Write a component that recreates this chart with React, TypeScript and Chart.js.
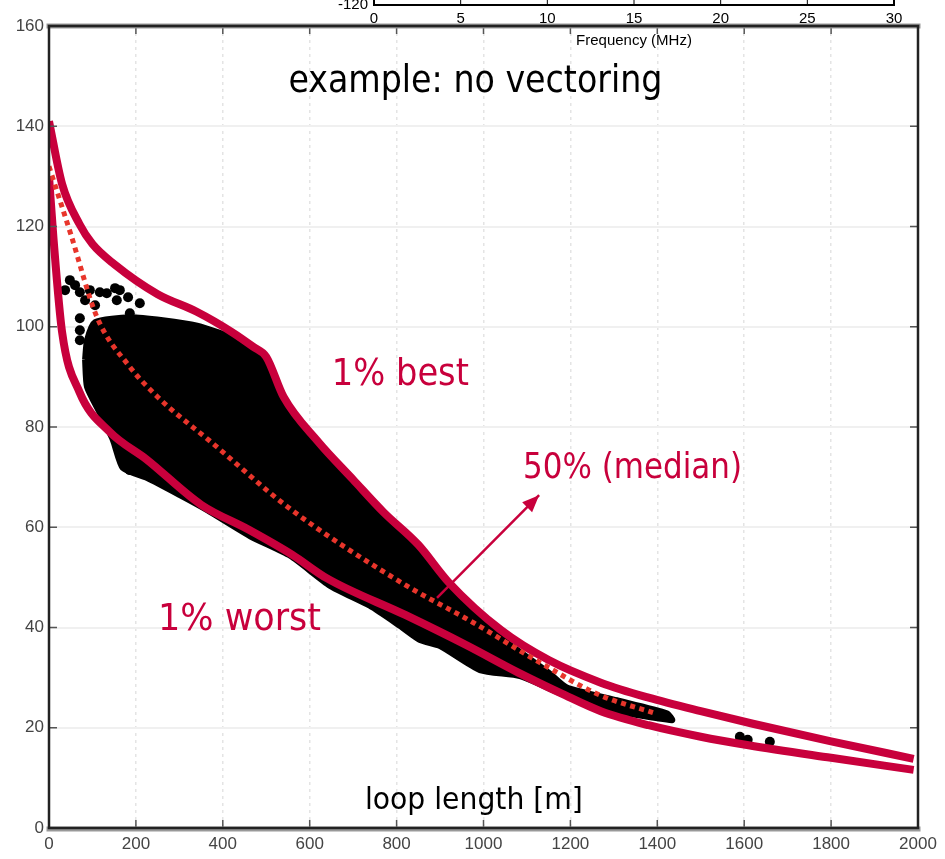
import React, { useEffect, useRef } from 'react';
import { Chart, registerables } from 'chart.js';

Chart.register(...registerables);

// ---- data (loop length [m], bit-rate) ----
const bestLength = [0, 30, 70, 100, 150, 250, 340, 420, 470, 500, 540, 620, 700, 770, 850, 920, 1040, 1150, 1270, 1380, 1500, 1620, 1800, 1990];
const bestRate = [141, 128.5, 120.5, 116.5, 112.5, 106.5, 103, 99, 96, 94, 86, 77, 69.5, 63, 56.5, 49, 39.5, 33.5, 29, 26, 23.3, 20.8, 17.3, 13.8];

const worstLength = [0, 10, 30, 70, 140, 225, 350, 460, 560, 640, 820, 960, 1080, 1180, 1270, 1380, 1500, 1610, 1800, 1990];
const worstRate = [130, 118, 99, 87, 79, 73.5, 64.5, 59.5, 54.5, 49.8, 42.5, 36.5, 31, 26.8, 23.3, 20.5, 18.2, 16.5, 14, 11.6];

const medianLength = [0, 50, 110, 186, 250, 380, 550, 810, 976, 1130, 1268, 1390];
const medianRate = [132, 118.5, 102, 92, 86, 76.5, 64, 49, 41, 33, 26.5, 23];

// outline of the dense scatter cloud (clockwise)
const cloudLength = [83, 87.5, 106, 186, 262, 341, 417, 479, 509, 540, 578, 620, 700, 770, 850, 920, 1040, 1150, 1192, 1307, 1422, 1434,
  1268, 1176, 1084, 992, 900, 854, 808, 739, 647, 555, 463, 364, 301, 226, 170, 147, 117, 87.5, 83];
const cloudRate = [93.4, 97.3, 100.9, 101.9, 101.3, 100.2, 98, 95, 92, 84.5, 80.5, 76, 68.5, 62, 55, 48, 38, 31, 28, 25.5, 22.9, 21.5,
  23.9, 26.9, 30.3, 31.5, 36.3, 37.5, 40.3, 44.3, 48.3, 54.3, 58.2, 63.4, 66.4, 69.8, 71.8, 77.4, 82.8, 88, 93.4];

// isolated scatter points outside the dense cloud
const dotLength = [37, 48, 60, 71, 94, 117, 133, 152, 163, 156, 182, 209, 186, 71, 71, 71, 83, 106, 186, 780, 820, 1590, 1608, 1659];
const dotRate = [107.3, 109.3, 108.3, 106.9, 107.3, 106.9, 106.7, 107.7, 107.3, 105.3, 105.9, 104.7, 102.7, 101.7, 99.3, 97.3, 105.3, 104.3, 71.4, 45, 42, 18.2, 17.6, 17.2];

const arrowLength = [893, 1128];
const arrowRate = [45.9, 66.4];

const annotationTexts = ['example: no vectoring', '1% best', '50% (median)', '1% worst', 'loop length [m]'];

// inset (cut-off chart at the top)
const insetFreqTicks = [0, 5, 10, 15, 20, 25, 30];
const insetYTicks = [-120];
const insetXTitle = 'Frequency (MHz)';

const RED = '#C8003C';
const DOT_RED = '#E8352B';
const TICK_FONT = "'Liberation Sans', Arial, sans-serif";
const ANN_FONT = "'DejaVu Sans Condensed', 'DejaVu Sans', sans-serif";

const pts = (xs: number[], ys: number[]) => xs.map((x, i) => ({ x, y: ys[i] }));

const framePlugin = {
  id: 'frame',
  afterDatasetsDraw(chart: any) {
    const { ctx, chartArea: a, scales } = chart;
    ctx.save();
    // inward tick marks
    ctx.strokeStyle = '#555';
    ctx.lineWidth = 1.5;
    const xs = scales.x;
    xs.ticks.forEach((t: any) => {
      const px = xs.getPixelForValue(t.value);
      ctx.beginPath();
      ctx.moveTo(px, a.bottom);
      ctx.lineTo(px, a.bottom - 8);
      ctx.moveTo(px, a.top);
      ctx.lineTo(px, a.top + 8);
      ctx.stroke();
    });
    const ys = scales.y;
    ys.ticks.forEach((t: any) => {
      const py = ys.getPixelForValue(t.value);
      ctx.beginPath();
      ctx.moveTo(a.left, py);
      ctx.lineTo(a.left + 8, py);
      ctx.moveTo(a.right, py);
      ctx.lineTo(a.right - 8, py);
      ctx.stroke();
    });
    // box
    ctx.lineCap = 'square';
    ctx.strokeStyle = '#999';
    ctx.lineWidth = 5;
    ctx.beginPath();
    ctx.moveTo(a.left, a.bottom + 1);
    ctx.lineTo(a.right, a.bottom + 1);
    ctx.moveTo(a.left, a.top);
    ctx.lineTo(a.right, a.top);
    ctx.stroke();
    ctx.strokeStyle = '#222';
    ctx.lineWidth = 2.5;
    ctx.beginPath();
    ctx.moveTo(a.left, a.bottom);
    ctx.lineTo(a.right, a.bottom);
    ctx.moveTo(a.left, a.top);
    ctx.lineTo(a.right, a.top);
    ctx.moveTo(a.left, a.top);
    ctx.lineTo(a.left, a.bottom);
    ctx.moveTo(a.right, a.top);
    ctx.lineTo(a.right, a.bottom);
    ctx.stroke();

    // arrow head on the arrow dataset
    const meta = chart.getDatasetMeta(chart.data.datasets.length - 1);
    const p0 = meta.data[0];
    const p1 = meta.data[1];
    if (p0 && p1) {
      const ang = Math.atan2(p1.y - p0.y, p1.x - p0.x);
      const L = 17;
      const W = 7;
      ctx.fillStyle = RED;
      ctx.beginPath();
      ctx.moveTo(p1.x, p1.y);
      ctx.lineTo(p1.x - L * Math.cos(ang) - W * Math.sin(ang), p1.y - L * Math.sin(ang) + W * Math.cos(ang));
      ctx.lineTo(p1.x - L * Math.cos(ang) + W * Math.sin(ang), p1.y - L * Math.sin(ang) - W * Math.cos(ang));
      ctx.closePath();
      ctx.fill();
    }
    ctx.restore();
  },
  afterDraw(chart: any) {
    const { ctx, scales } = chart;
    const X = (v: number) => scales.x.getPixelForValue(v);
    const Y = (v: number) => scales.y.getPixelForValue(v);
    ctx.save();
    ctx.textBaseline = 'alphabetic';
    const put = (txt: string, x: number, y: number, size: number, color: string, width: number) => {
      ctx.font = `${size}px ${ANN_FONT}`;
      const w = ctx.measureText(txt).width;
      ctx.save();
      ctx.translate(x, y);
      if (w > 0) ctx.scale(width / w, 1);
      ctx.fillStyle = color;
      ctx.textAlign = 'left';
      ctx.fillText(txt, 0, 0);
      ctx.restore();
    };
    put(annotationTexts[0], X(551), Y(146.8), 37, '#000', 374);
    put(annotationTexts[1], X(651), Y(88.4), 38, RED, 137);
    put(annotationTexts[2], X(1091), Y(69.8), 35, RED, 219);
    put(annotationTexts[3], X(251), Y(39.5), 38, RED, 163);
    put(annotationTexts[4], X(727), Y(3.8), 30, '#000', 218);
    ctx.restore();
  },
};

const insetFramePlugin = {
  id: 'insetFrame',
  afterDraw(chart: any) {
    const { ctx, chartArea: a, scales } = chart;
    ctx.save();
    ctx.strokeStyle = '#000';
    ctx.lineWidth = 2;
    ctx.strokeRect(a.left, a.top, a.right - a.left, a.bottom - a.top);
    ctx.lineWidth = 1;
    scales.x.ticks.forEach((t: any) => {
      const px = scales.x.getPixelForValue(t.value);
      ctx.beginPath();
      ctx.moveTo(px, a.bottom);
      ctx.lineTo(px, a.bottom - 6);
      ctx.stroke();
    });
    ctx.restore();
  },
};

export default function App() {
  const mainRef = useRef<HTMLCanvasElement | null>(null);
  const insetRef = useRef<HTMLCanvasElement | null>(null);

  useEffect(() => {
    const main = new Chart(mainRef.current as HTMLCanvasElement, {
      type: 'line',
      data: {
        datasets: [
          {
            label: 'cloud',
            data: pts(cloudLength, cloudRate),
            borderColor: '#000',
            backgroundColor: '#000',
            borderWidth: 6,
            borderJoinStyle: 'round',
            fill: 'shape',
            pointRadius: 0,
            tension: 0.2,
            order: 6,
          } as any,
          {
            label: 'dots',
            data: pts(dotLength, dotRate),
            showLine: false,
            pointRadius: 5,
            pointBackgroundColor: '#000',
            pointBorderWidth: 0,
            order: 5,
          },
          {
            label: '1% best',
            data: pts(bestLength, bestRate),
            borderColor: RED,
            borderWidth: 8,
            pointRadius: 0,
            cubicInterpolationMode: 'monotone',
            fill: false,
            order: 3,
          },
          {
            label: '1% worst',
            data: pts(worstLength, worstRate),
            borderColor: RED,
            borderWidth: 8,
            pointRadius: 0,
            cubicInterpolationMode: 'monotone',
            fill: false,
            order: 2,
          },
          {
            label: '50% (median)',
            data: pts(medianLength, medianRate),
            borderColor: DOT_RED,
            borderWidth: 5,
            borderDash: [5, 4.5],
            borderCapStyle: 'butt',
            pointRadius: 0,
            cubicInterpolationMode: 'monotone',
            fill: false,
            order: 1,
          },
          {
            label: 'arrow',
            data: pts(arrowLength, arrowRate),
            borderColor: RED,
            borderWidth: 2.5,
            pointRadius: 0,
            fill: false,
            order: 0,
          },
        ],
      },
      options: {
        responsive: false,
        animation: false,
        devicePixelRatio: 1,
        layout: { padding: { left: 0, right: 27, top: 26, bottom: 0 } },
        plugins: { legend: { display: false }, tooltip: { enabled: false } },
        scales: {
          x: {
            type: 'linear',
            min: 0,
            max: 2000,
            ticks: { stepSize: 200, color: '#444', font: { family: TICK_FONT, size: 17 }, padding: 6, maxRotation: 0, callback: (v: any) => String(v) },
            grid: { color: '#e4e4e4', lineWidth: 1.5, drawTicks: false },
            border: { display: false, dash: [3, 4] },
            afterFit: (s: any) => { s.height = 31; },
          },
          y: {
            type: 'linear',
            min: 0,
            max: 160,
            ticks: { stepSize: 20, color: '#444', font: { family: TICK_FONT, size: 17 }, padding: 5, callback: (v: any) => String(v) },
            grid: { color: '#f0f0f0', lineWidth: 2, drawTicks: false },
            border: { display: false },
            afterFit: (s: any) => { s.width = 49; },
          },
        },
      } as any,
      plugins: [framePlugin],
    });

    const inset = new Chart(insetRef.current as HTMLCanvasElement, {
      type: 'line',
      data: { datasets: [{ data: [], pointRadius: 0 }] },
      options: {
        responsive: false,
        animation: false,
        devicePixelRatio: 1,
        layout: { padding: { left: 0, right: 51, top: 10, bottom: 0 } },
        plugins: { legend: { display: false }, tooltip: { enabled: false } },
        scales: {
          x: {
            type: 'linear',
            min: insetFreqTicks[0],
            max: insetFreqTicks[insetFreqTicks.length - 1],
            afterBuildTicks: (s: any) => { s.ticks = insetFreqTicks.map((v) => ({ value: v })); },
            ticks: { color: '#000', font: { family: "'Liberation Sans', Arial, sans-serif", size: 15 }, padding: 5, maxRotation: 0 },
            grid: { display: false, drawTicks: false },
            border: { display: false },
            title: { display: true, text: insetXTitle, color: '#000', font: { family: "'Liberation Sans', Arial, sans-serif", size: 15 }, padding: { top: 3, bottom: 0 } },
            afterFit: (s: any) => { s.height = 45; },
          },
          y: {
            type: 'linear',
            min: insetYTicks[0],
            max: insetYTicks[0] + 20,
            afterBuildTicks: (s: any) => { s.ticks = insetYTicks.map((v) => ({ value: v })); },
            ticks: { color: '#000', font: { family: "'Liberation Sans', Arial, sans-serif", size: 15 }, padding: 6 },
            grid: { display: false, drawTicks: false },
            border: { display: false },
            afterFit: (s: any) => { s.width = 374; },
          },
        },
      } as any,
      plugins: [insetFramePlugin],
    });

    return () => {
      main.destroy();
      inset.destroy();
    };
  }, []);

  return (
    <div style={{ position: 'absolute', left: 0, top: 0, width: 945, height: 859, overflow: 'hidden', background: '#fff' }}>
      <canvas ref={mainRef} width={945} height={859} style={{ position: 'absolute', left: 0, top: 0, width: 945, height: 859 }} />
      <canvas ref={insetRef} width={945} height={110} style={{ position: 'absolute', left: 0, top: -60, width: 945, height: 110 }} />
    </div>
  );
}
